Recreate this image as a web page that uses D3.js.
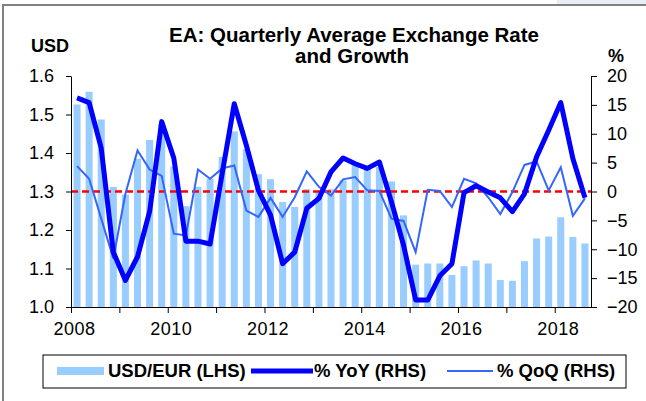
<!DOCTYPE html>
<html>
<head>
<meta charset="utf-8">
<script src="https://cdn.jsdelivr.net/npm/d3@7"></script>
<style>
    body { margin: 0; background: #fff; }
    text { font-family: "Liberation Sans", Arial, sans-serif; }
</style>
</head>
<body>
<svg id="canvas"></svg>
<script>
// quarters 2008Q1 .. 2018Q3
const quarters = d3.range(2008, 2019).flatMap(y => ["Q1", "Q2", "Q3", "Q4"].map(q => y + q)).slice(0, 43);

const usdEur = [
    1.526, 1.559, 1.487, 1.312, 1.292, 1.385, 1.434, 1.474, 1.365, 1.262, 1.312,
    1.333, 1.390, 1.456, 1.410, 1.345, 1.332, 1.273, 1.260, 1.306, 1.302, 1.306,
    1.329, 1.368, 1.359, 1.364, 1.326, 1.238, 1.110, 1.113, 1.113, 1.083, 1.106,
    1.121, 1.113, 1.070, 1.068, 1.119, 1.178, 1.183, 1.233, 1.182, 1.165
];

const yoy = [
    16.2, 15.4, 7.5, -10.5, -15.4, -11.3, -3.5, 12.1, 5.8, -8.6, -8.6,
    -9.1, 3.1, 15.2, 8.0, 0.2, -4.1, -12.5, -10.5, -2.9, -1.2, 3.4,
    5.8, 4.8, 4.0, 5.1, -1.8, -9.3, -18.8, -18.8, -14.6, -12.5, -0.2,
    1.0, -0.1, -1.1, -3.5, -0.4, 6.0, 10.6, 15.4, 5.7, -1.1
];

const qoq = [
    4.4, 2.2, -4.7, -11.6, -0.4, 7.1, 3.8, 2.7, -7.3, -7.6, 3.8,
    2.2, 4.0, 4.5, -3.3, -4.4, -1.1, -4.4, -1.0, 3.5, 0.8, -0.7,
    2.1, 2.5, 0.2, 0.1, -4.7, -5.1, -10.5, 0.3, 0.1, -2.7, 2.2,
    1.4, -1.0, -3.9, -0.1, 4.6, 5.2, 0.2, 4.2, -4.2, -1.2
];

const leftTicks = [1.0, 1.1, 1.2, 1.3, 1.4, 1.5, 1.6];
const rightTicks = [-20, -15, -10, -5, 0, 5, 10, 15, 20];
const yearTicks = d3.range(2008, 2019);

const width = 646;
const height = 401;
const plot = { left: 71, right: 591, top: 76, bottom: 307 };

const BAR_COLOR = "#99ccff";
const YOY_COLOR = "#0000ff";
const QOQ_COLOR = "#3366ff";

const canvas = d3.select("#canvas")
    .attr("width", width)
    .attr("height", height);

// frame
canvas.append("rect")
    .attr("x", 557).attr("y", 0)
    .attr("width", 89).attr("height", 5)
    .attr("fill", "#e9eef6");
canvas.append("path")
    .attr("d", `M3,${height} V5 H${width}`)
    .attr("fill", "none")
    .attr("stroke", "#808080")
    .attr("stroke-width", 2);

const x = d3.scaleBand()
    .domain(quarters)
    .range([plot.left, plot.right])
    .paddingInner(0.42)
    .paddingOuter(0.21);

const xYear = d3.scaleLinear()
    .domain([2008, 2018.75])
    .range([plot.left, plot.right]);

const yL = d3.scaleLinear().domain([1.0, 1.6]).range([plot.bottom, plot.top]);
const yR = d3.scaleLinear().domain([-20, 20]).range([plot.bottom, plot.top]);

const mid = d => x(d) + x.bandwidth() / 2;

// bars
canvas.append("g")
    .selectAll("rect")
    .data(usdEur)
    .enter()
    .append("rect")
    .attr("x", (d, i) => x(quarters[i]))
    .attr("width", x.bandwidth())
    .attr("y", d => yL(d))
    .attr("height", d => yL(1.0) - yL(d))
    .attr("fill", BAR_COLOR);

// zero / 1.3 reference
canvas.append("line")
    .attr("x1", plot.left).attr("x2", plot.right)
    .attr("y1", yL(1.3)).attr("y2", yL(1.3))
    .attr("stroke", "#ff0000")
    .attr("stroke-width", 2.5)
    .attr("stroke-dasharray", "7,4");

const line = d3.line()
    .x((d, i) => mid(quarters[i]))
    .y(d => yR(d));

canvas.append("path")
    .datum(qoq)
    .attr("d", line)
    .attr("fill", "none")
    .attr("stroke", QOQ_COLOR)
    .attr("stroke-width", 2);

canvas.append("path")
    .datum(yoy)
    .attr("d", line)
    .attr("fill", "none")
    .attr("stroke", YOY_COLOR)
    .attr("stroke-width", 5)
    .attr("stroke-linejoin", "round");

// axes
const styleAxis = g => {
    g.selectAll("path, line").attr("stroke", "#000");
    g.selectAll("text")
        .style("font-size", "18px")
        .attr("fill", "#000");
};

canvas.append("g")
    .attr("transform", `translate(${plot.left},0)`)
    .call(d3.axisLeft(yL).tickValues(leftTicks).tickFormat(d3.format(".1f"))
        .tickSize(5).tickSizeOuter(0).tickPadding(12))
    .call(styleAxis);

canvas.append("g")
    .attr("transform", `translate(${plot.right},0)`)
    .call(d3.axisRight(yR).tickValues(rightTicks)
        .tickSize(6).tickSizeOuter(0).tickPadding(10))
    .call(styleAxis);

canvas.append("g")
    .attr("transform", `translate(0,${plot.bottom})`)
    .call(d3.axisBottom(xYear).tickValues(yearTicks)
        .tickFormat(d => d % 2 === 0 ? d : "")
        .tickSize(6).tickSizeOuter(0).tickPadding(9))
    .call(styleAxis)
    .call(g => g.selectAll("text").attr("dx", 3).style("letter-spacing", "0.5px"));

// titles
const title = canvas.append("text")
    .attr("text-anchor", "middle")
    .style("font-size", "20.5px")
    .style("font-weight", "bold");
title.append("tspan").attr("x", 354).attr("y", 42).text("EA: Quarterly Average Exchange Rate");
title.append("tspan").attr("x", 352).attr("y", 63).text("and Growth");

canvas.append("text")
    .attr("x", 31).attr("y", 52)
    .style("font-size", "18px")
    .style("font-weight", "bold")
    .text("USD");

canvas.append("text")
    .attr("x", 608).attr("y", 62)
    .style("font-size", "18px")
    .style("font-weight", "bold")
    .text("%");

// legend
const legend = canvas.append("g");
legend.append("rect")
    .attr("x", 43).attr("y", 355)
    .attr("width", 583).attr("height", 33)
    .attr("fill", "#fff")
    .attr("stroke", "#000");

legend.append("rect")
    .attr("x", 57).attr("y", 367)
    .attr("width", 47).attr("height", 8)
    .attr("fill", BAR_COLOR);
legend.append("line")
    .attr("x1", 251).attr("x2", 313).attr("y1", 371).attr("y2", 371)
    .attr("stroke", YOY_COLOR).attr("stroke-width", 5);
legend.append("line")
    .attr("x1", 447).attr("x2", 493).attr("y1", 371).attr("y2", 371)
    .attr("stroke", QOQ_COLOR).attr("stroke-width", 2);

legend.selectAll(".legend-name")
    .data([["USD/EUR (LHS)", 108], ["% YoY (RHS)", 314], ["% QoQ (RHS)", 497]])
    .enter()
    .append("text")
    .attr("class", "legend-name")
    .attr("x", d => d[1])
    .attr("y", 377)
    .style("font-size", "18.5px")
    .style("font-weight", "bold")
    .text(d => d[0]);
</script>
</body>
</html>
